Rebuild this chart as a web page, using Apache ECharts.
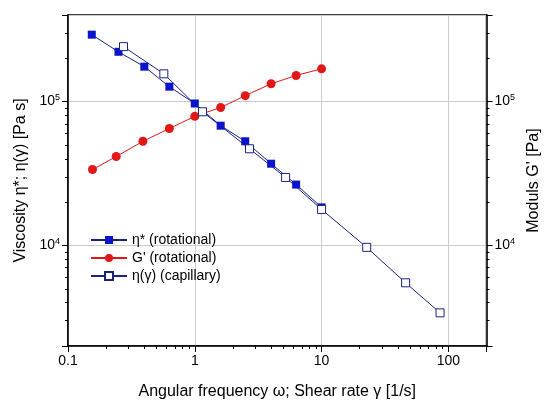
<!DOCTYPE html><html><head><meta charset="utf-8"><script src="https://cdn.jsdelivr.net/npm/echarts@6/dist/echarts.min.js"></script></head><body style="margin:0;background:#fff"><div id="c" style="width:550px;height:413px"></div><script>
const etaX=[0.154,0.25,0.4,0.63,1,1.6,2.5,4,6.3,10];
const etaY=[2.92e5,2.22e5,1.75e5,1.27e5,9.7e4,6.8e4,5.3e4,3.7e4,2.65e4,1.84e4];
const gX=[0.156,0.24,0.39,0.63,1,1.6,2.5,4,6.3,10];
const gY=[3.37e4,4.15e4,5.3e4,6.5e4,7.9e4,9.1e4,1.1e5,1.33e5,1.52e5,1.69e5];
const capX=[0.274,0.57,1.15,2.7,5.2,10,22.7,46,86];
const capY=[2.41e5,1.56e5,8.5e4,4.7e4,2.97e4,1.78e4,9.7e3,5.5e3,3.4e3];
const z=(a,b)=>a.map((v,i)=>[v,b[i]]);
const f='Liberation Sans';
const pow=v=>{const e=Math.round(Math.log10(v));return Math.abs(Math.log10(v)-e)<1e-6&&(e===4||e===5)?'10{s|'+e+'}':'';};
const yBase={type:'log',logBase:10,min:2000,max:4e5,axisLine:{show:true,lineStyle:{color:'#000',width:1.5}},axisTick:{show:true,inside:false,length:6,lineStyle:{color:'#000'}},minorTick:{show:true,splitNumber:9,length:3,lineStyle:{color:'#000'}},nameLocation:'middle',nameTextStyle:{fontFamily:f,fontSize:16,color:'#000'},axisLabel:{formatter:pow,fontFamily:f,fontSize:14,color:'#000',rich:{s:{fontSize:9,verticalAlign:'top',padding:[0,0,8,0]}}}};
const chart=echarts.init(document.getElementById('c'));
chart.setOption({animation:false,grid:{left:68,right:59,top:15,bottom:67,show:true,borderColor:'#000',borderWidth:1.5},
legend:{left:85,top:228,orient:'vertical',itemGap:4,itemWidth:36,itemHeight:10,textStyle:{fontFamily:f,fontSize:14,color:'#000'},data:['η* (rotational)',"G' (rotational)",'η(γ) (capillary)']},
xAxis:{type:'log',logBase:10,min:0.1,max:200,name:'Angular frequency ω; Shear rate γ [1/s]',nameLocation:'middle',nameGap:38,nameTextStyle:{fontFamily:f,fontSize:16,color:'#000'},axisLine:{lineStyle:{color:'#000',width:1.5}},axisTick:{length:6,lineStyle:{color:'#000'}},minorTick:{show:true,splitNumber:9,length:3,lineStyle:{color:'#000'}},splitLine:{show:true,lineStyle:{color:'#ccc'}},axisLabel:{fontFamily:f,fontSize:14,color:'#000',formatter:v=>[0.1,1,10,100].some(p=>Math.abs(v-p)<1e-9)?String(v):''}},
yAxis:[Object.assign({},yBase,{name:'Viscosity η*; η(γ) [Pa s]',nameGap:38,splitLine:{show:true,lineStyle:{color:'#ccc'}}}),Object.assign({},yBase,{position:'right',name:"Moduls G' [Pa]",nameGap:35,splitLine:{show:false}})],
series:[
{name:'η* (rotational)',type:'line',data:z(etaX,etaY),symbol:'rect',symbolSize:8,itemStyle:{color:'#0a14c8'},lineStyle:{color:'#1a237e',width:1}},
{name:"G' (rotational)",type:'line',data:z(gX,gY),symbol:'circle',symbolSize:9,itemStyle:{color:'#e01818'},lineStyle:{color:'#e01818',width:1}},
{name:'η(γ) (capillary)',type:'line',data:z(capX,capY),symbol:'rect',symbolSize:8,itemStyle:{color:'#fff',borderColor:'#1a237e',borderWidth:1},lineStyle:{color:'#1a237e',width:1}}
]});
</script></body></html>
